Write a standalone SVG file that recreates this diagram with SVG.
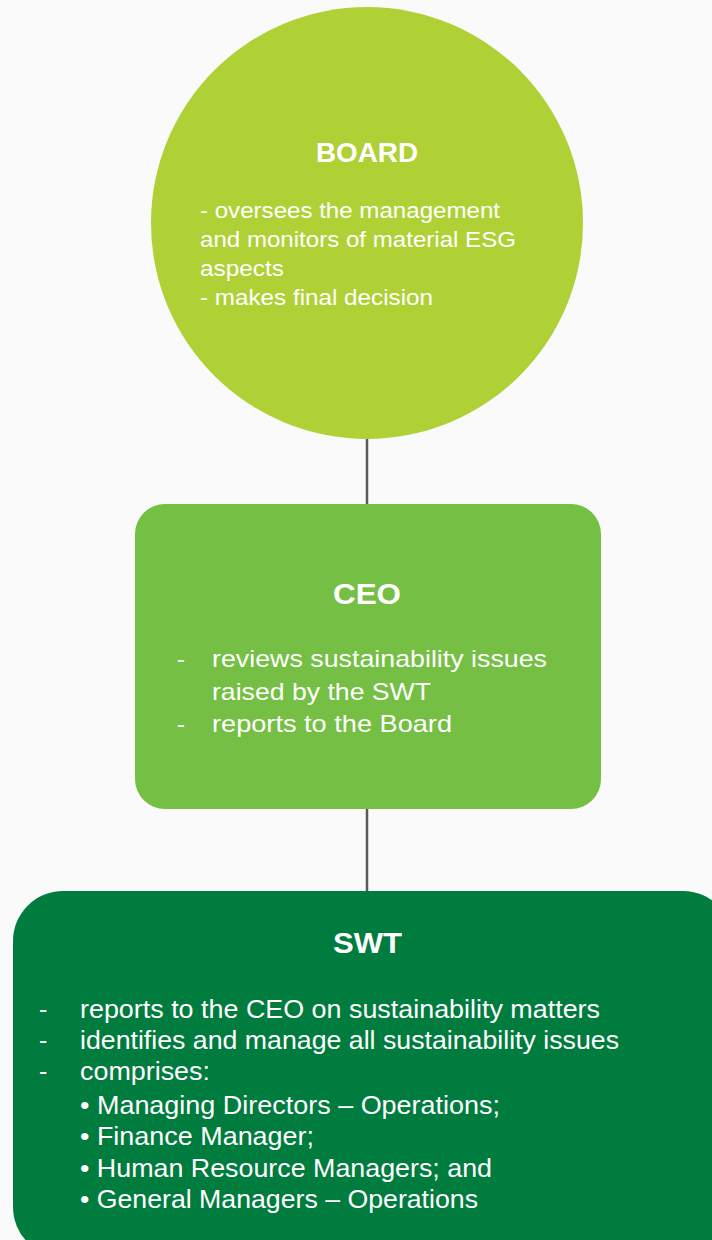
<svg xmlns="http://www.w3.org/2000/svg" width="712" height="1240" viewBox="0 0 712 1240">
<style>
.t{font-family:"Liberation Sans",Arial,sans-serif;fill:#ffffff}
.h{font-weight:bold}
.b1{font-size:21.5px}
.b2{font-size:24px}
.b3{font-size:25px}
.link{stroke:#5a5a5a;stroke-width:2.5;fill:none}
</style>
<rect x="0" y="0" width="712" height="1240" fill="#fafafa"/>
<g id="connectors">
<line class="link" x1="367" y1="436" x2="367" y2="505"/>
<line class="link" x1="367" y1="808" x2="367" y2="892"/>
</g>
<g id="board">
<circle cx="367" cy="223" r="216" fill="#afd136"/>
<text class="t h" x="316" y="162" font-size="28" textLength="102" lengthAdjust="spacingAndGlyphs">BOARD</text>
<text class="t b1" x="200" y="218" textLength="300" lengthAdjust="spacingAndGlyphs">- oversees the management</text>
<text class="t b1" x="200" y="247" textLength="316" lengthAdjust="spacingAndGlyphs">and monitors of material ESG</text>
<text class="t b1" x="200" y="276" textLength="84" lengthAdjust="spacingAndGlyphs">aspects</text>
<text class="t b1" x="200" y="305" textLength="233" lengthAdjust="spacingAndGlyphs">- makes final decision</text>
</g>
<g id="ceo">
<rect x="135" y="504" width="466" height="305" rx="30" fill="#74bf44"/>
<text class="t h" x="333" y="604" font-size="29" textLength="68" lengthAdjust="spacingAndGlyphs">CEO</text>
<text class="t b2" x="177" y="667">-</text>
<text class="t b2" x="212" y="667" textLength="335" lengthAdjust="spacingAndGlyphs">reviews sustainability issues</text>
<text class="t b2" x="212" y="700" textLength="219" lengthAdjust="spacingAndGlyphs">raised by the SWT</text>
<text class="t b2" x="177" y="732">-</text>
<text class="t b2" x="212" y="732" textLength="240" lengthAdjust="spacingAndGlyphs">reports to the Board</text>
</g>
<g id="swt">
<rect x="13" y="891" width="720" height="366" rx="50" fill="#007c3e"/>
<text class="t h" x="333" y="953" font-size="30" textLength="69" lengthAdjust="spacingAndGlyphs">SWT</text>
<text class="t b3" x="39" y="1018">-</text>
<text class="t b3" x="80" y="1018" textLength="520" lengthAdjust="spacingAndGlyphs">reports to the CEO on sustainability matters</text>
<text class="t b3" x="39" y="1049">-</text>
<text class="t b3" x="80" y="1049" textLength="539" lengthAdjust="spacingAndGlyphs">identifies and manage all sustainability issues</text>
<text class="t b3" x="39" y="1080">-</text>
<text class="t b3" x="80" y="1080" textLength="130" lengthAdjust="spacingAndGlyphs">comprises:</text>
<text class="t b3" x="80" y="1114" textLength="420" lengthAdjust="spacingAndGlyphs">• Managing Directors – Operations;</text>
<text class="t b3" x="80" y="1145" textLength="234" lengthAdjust="spacingAndGlyphs">• Finance Manager;</text>
<text class="t b3" x="80" y="1177" textLength="412" lengthAdjust="spacingAndGlyphs">• Human Resource Managers; and</text>
<text class="t b3" x="80" y="1208" textLength="398" lengthAdjust="spacingAndGlyphs">• General Managers – Operations</text>
</g>
</svg>
